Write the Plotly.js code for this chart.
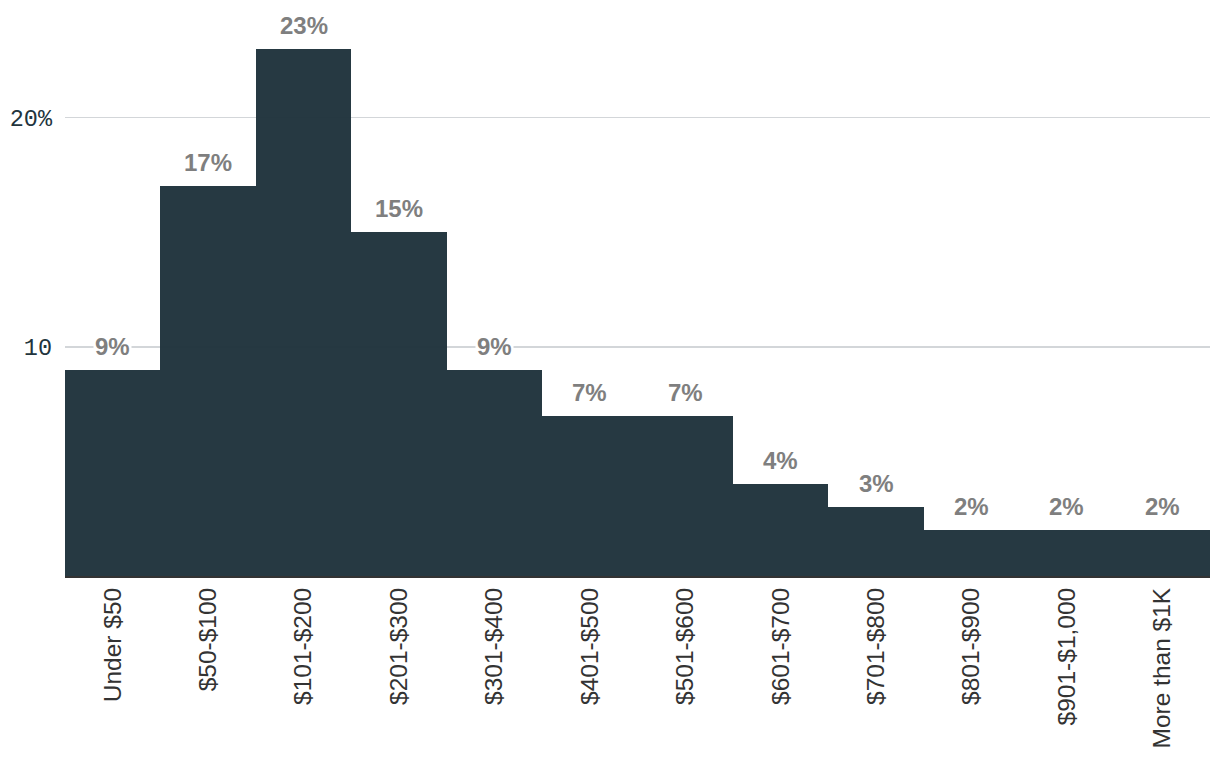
<!DOCTYPE html>
<html><head><meta charset="utf-8">
<script src="https://cdn.plot.ly/plotly-3.0.1.min.js"></script>
<style>html,body{margin:0;padding:0;background:#fff}#chart{width:1220px;height:766px}</style>
</head><body><div id="chart"></div>
<script>
const categories = ["Under $50","$50-$100","$101-$200","$201-$300","$301-$400","$401-$500","$501-$600","$601-$700","$701-$800","$801-$900","$901-$1,000","More than $1K"];
const values = [9,17,23,15,9,7,7,4,3,2,2,2];
const yTickVals = [10,20];
const yTickText = ["10","20%"];

const annotations = categories.map((c,i)=>({
  x: c, y: values[i], xref:'x', yref:'y', text: values[i] + '%',
  showarrow:false, yanchor:'bottom', yshift:8,
  bgcolor:'#ffffff', borderpad:1,
  font:{family:'"Liberation Sans", Arial, sans-serif', size:24, color:'#7f7f7f', weight:'bold'}
}));

const trace = {
  type:'bar', x: categories, y: values,
  marker:{color:'#1f333c', opacity:0.97, line:{width:0}},
  hoverinfo:'skip'
};

const layout = {
  width:1220, height:766,
  margin:{l:65, r:10, t:26, b:190},
  paper_bgcolor:'#ffffff', plot_bgcolor:'#ffffff',
  bargap:0,
  showlegend:false,
  xaxis:{
    type:'category', tickangle:-90, showgrid:false,
    showline:true, linecolor:'#333333', linewidth:2,
    ticks:'', ticklen:0,
    tickfont:{family:'"Liberation Sans", Arial, sans-serif', size:24.5, color:'#333333'}
  },
  yaxis:{
    range:[0,24], tickvals:yTickVals, ticktext:yTickText,
    showgrid:true, gridcolor:'#d3d6d9', gridwidth:1.5,
    zeroline:false, showline:false, ticks:'', ticklabelstandoff:12,
    tickfont:{family:'"Liberation Mono", "DejaVu Sans Mono", monospace', size:23.5, color:'#22343d'},
    layer:'above traces'
  },
  annotations: annotations
};
Plotly.newPlot('chart',[trace],layout,{staticPlot:true,displayModeBar:false});
</script></body></html>
